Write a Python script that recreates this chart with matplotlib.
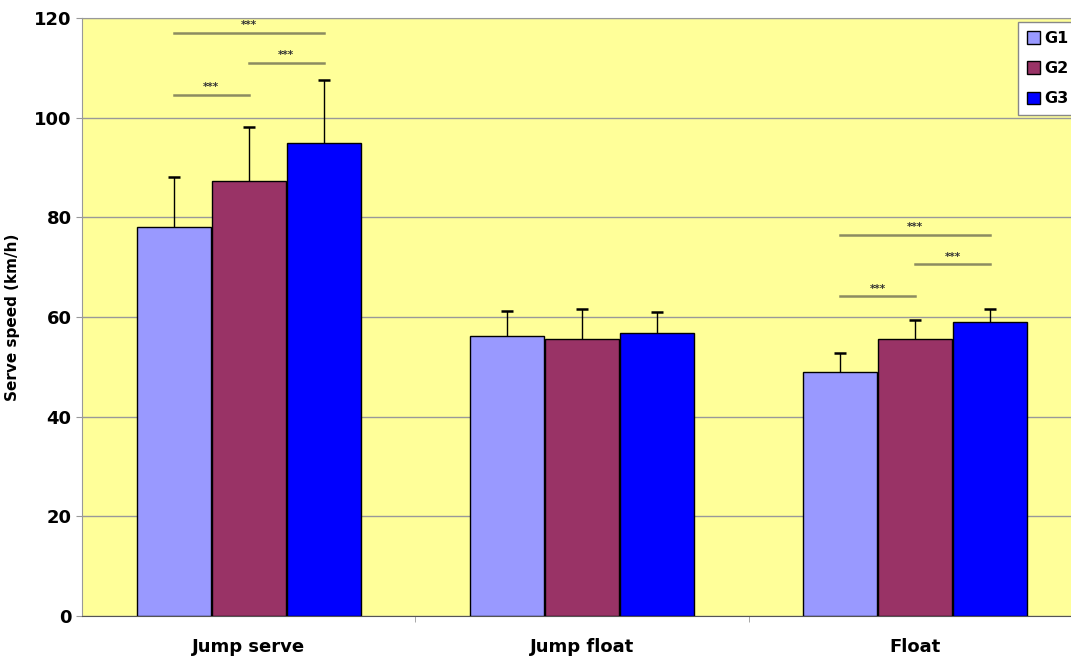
import matplotlib
matplotlib.use("Agg")
import matplotlib.pyplot as plt
import numpy as np

categories = ["Jump serve", "Jump float", "Float"]
groups = ["G1", "G2", "G3"]
means = {
    "G1": [78.0, 56.2, 49.0],
    "G2": [87.3, 55.6, 55.6],
    "G3": [94.9, 56.8, 59.0],
}
sds = {
    "G1": [10.1, 5.0, 3.8],
    "G2": [10.8, 6.0, 3.8],
    "G3": [12.7, 4.2, 2.6],
}
colors = {"G1": "#9999FF", "G2": "#993366", "G3": "#0000FF"}

# significance brackets: (category index, group a, group b, height)
sig_pairs = [
    (0, 0, 1, 104.6), (0, 1, 2, 111.0), (0, 0, 2, 117.0),
    (2, 0, 1, 64.2), (2, 1, 2, 70.6), (2, 0, 2, 76.5),
]

W, H = 1071, 660
fig = plt.figure(figsize=(W / 100, H / 100), dpi=100)
ax = fig.add_axes([82 / W, 44 / H, 1000 / W, 598 / H])
ax.set_facecolor("#FFFF99")

x = np.arange(len(categories))
bw = 0.222
offsets = [-0.225, 0.0, 0.225]
for g, off in zip(groups, offsets):
    m = np.array(means[g])
    e = np.array(sds[g])
    ax.bar(x + off, m, bw, color=colors[g], edgecolor="black", linewidth=1,
           label=g, zorder=3)
    # upper-only error bars
    ax.vlines(x + off, m, m + e, color="black", lw=1, zorder=4)
    ax.plot(x + off, m + e, ls="none", marker="_", ms=8, mew=1.8,
            color="black", zorder=4)

for ci, a, b, h in sig_pairs:
    xa, xb = ci + offsets[a], ci + offsets[b]
    ax.plot([xa, xb], [h, h], color="#8C8C60", lw=1.8, zorder=5)
    ax.text((xa + xb) / 2, h + 0.5, "***", ha="center", va="bottom",
            fontsize=7.5, fontweight="bold", color="#333333", zorder=5)

ax.set_xlim(-0.5, 2.5)
ax.set_ylim(0, 120)
ax.set_yticks(np.arange(0, 121, 20))
ax.yaxis.grid(True, color="#999999", lw=1, zorder=0)
ax.set_axisbelow(True)
ax.set_xticks(x)
ax.set_xticklabels(categories, fontsize=13, fontweight="bold")
ax.set_xticks([0.5, 1.5], minor=True)
ax.tick_params(axis="x", which="major", length=0, pad=16)
ax.tick_params(axis="x", which="minor", length=4, color="#999999")
ax.tick_params(axis="y", length=4, color="#999999", labelsize=13)
for lab in ax.get_yticklabels():
    lab.set_fontweight("bold")
ax.set_ylabel("Serve speed (km/h)", fontsize=11, fontweight="bold", labelpad=10)

for s in ["top", "left", "right"]:
    ax.spines[s].set_color("#999999")
ax.spines["bottom"].set_color("#555555")

leg = ax.legend(loc="upper left", bbox_to_anchor=(936 / 1000, 0.993),
                borderaxespad=0,
                prop={"weight": "bold", "size": 11.5}, fancybox=False,
                handlelength=0.8, handleheight=0.8, handletextpad=0.3,
                borderpad=0.55, labelspacing=0.95, framealpha=1,
                edgecolor="#888888")
leg.get_frame().set_linewidth(1)

fig.savefig("out.png", dpi=100)
